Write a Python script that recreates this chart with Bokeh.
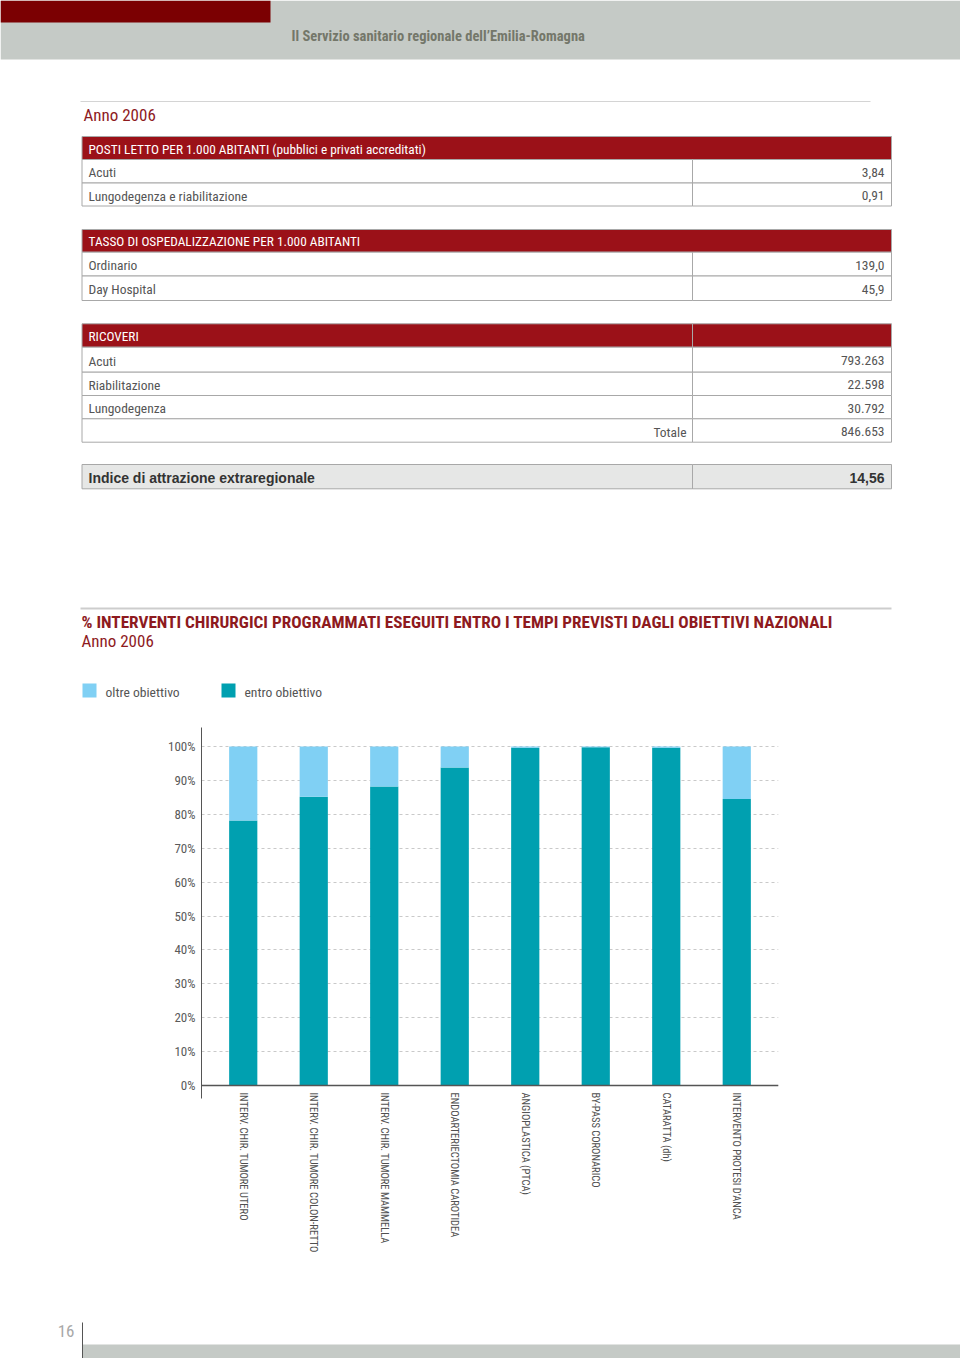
from bokeh.plotting import figure
from bokeh.layouts import column, row
from bokeh.models import Range1d, FactorRange, Span, PrintfTickFormatter, FixedTicker, Spacer
from bokeh.core.properties import value
from bokeh.embed import file_html
from bokeh.resources import INLINE

# ---------------- data ----------------
header_title = "Il Servizio sanitario regionale dell\u2019Emilia-Romagna"
year_label = "Anno 2006"

t1_header = "POSTI LETTO PER 1.000 ABITANTI (pubblici e privati accreditati)"
t1_labels = ["Acuti", "Lungodegenza e riabilitazione"]
t1_values = ["3,84", "0,91"]

t2_header = "TASSO DI OSPEDALIZZAZIONE PER 1.000 ABITANTI"
t2_labels = ["Ordinario", "Day Hospital"]
t2_values = ["139,0", "45,9"]

t3_header = "RICOVERI"
t3_labels = ["Acuti", "Riabilitazione", "Lungodegenza", ""]
t3_values = ["793.263", "22.598", "30.792", "846.653"]
t3_total_label = "Totale"

idx_label = "Indice di attrazione extraregionale"
idx_value = "14,56"

chart_title = "% INTERVENTI CHIRURGICI PROGRAMMATI ESEGUITI ENTRO I TEMPI PREVISTI DAGLI OBIETTIVI NAZIONALI"
chart_subtitle = "Anno 2006"
series_names = ["oltre obiettivo", "entro obiettivo"]

categories = [
    "INTERV. CHIR. TUMORE UTERO",
    "INTERV. CHIR. TUMORE COLON-RETTO",
    "INTERV. CHIR. TUMORE MAMMELLA",
    "ENDOARTERIECTOMIA CAROTIDEA",
    "ANGIOPLASTICA (PTCA)",
    "BY-PASS CORONARICO",
    "CATARATTA (dh)",
    "INTERVENTO PROTESI D\u2019ANCA",
]
entro = [78.2, 85.2, 88.2, 93.8, 99.6, 99.8, 99.6, 84.5]
oltre = [21.8, 14.8, 11.8, 6.2, 0.4, 0.2, 0.4, 15.5]
y_ticks = [0, 10, 20, 30, 40, 50, 60, 70, 80, 90, 100]

page_number = "16"

# ---------------- style ----------------
FONT = "Roboto Condensed"
FONT_W = "Liberation Sans"
RED = "#9b1118"
DARKRED = "#8e1a1e"
MAROON = "#7b0002"
BAND = "#c5cac6"
GREY_TXT = "#555555"
BORDER = "#a8a8a8"
LIGHTBLUE = "#80d0f4"
TEAL = "#00a0b0"


def blank(width, height, y0, y1):
    p = figure(width=width, height=height, x_range=Range1d(0, width), y_range=Range1d(y1, y0),
               output_backend="svg", toolbar_location=None, min_border=0,
               x_axis_location=None, y_axis_location=None)
    p.grid.visible = False
    p.outline_line_color = None
    p.background_fill_color = "white"
    p.border_fill_color = "white"
    return p


def txt(p, x, y, s, size, color, font=FONT, align="left", style="normal"):
    p.text(x=[x], y=[y], text=[s], text_font=value(font), text_font_size=f"{size}px",
           text_color=color, text_align=align, text_baseline="middle", text_font_style=style)


# ---------------- top page part ----------------
top = blank(960, 720, 0, 720)
top.quad(left=[0], right=[960], top=[0], bottom=[59], fill_color=BAND, line_color=None)
top.quad(left=[0], right=[270], top=[0], bottom=[22], fill_color=MAROON, line_color=None)
txt(top, 291, 36, header_title, 14.5, "#74776a", style="bold")

top.segment(x0=[80], y0=[101], x1=[870], y1=[101], line_color="#d4d4d4", line_width=1)
txt(top, 83, 114, year_label, 17, DARKRED)

L, M, R = 81.5, 692, 891


def header_row(y0, y1, s, split=False):
    if split:
        top.quad(left=[L, M], right=[M, R], top=[y0, y0], bottom=[y1, y1], fill_color=RED, line_color=BORDER)
    else:
        top.quad(left=[L], right=[R], top=[y0], bottom=[y1], fill_color=RED, line_color=BORDER)
    txt(top, 88, (y0 + y1) / 2 + 1, s, 13.3, "white")


def data_row(y0, y1, label, val, fill="white", style="normal", color=GREY_TXT, size=13.5, font=FONT):
    top.quad(left=[L, M], right=[M, R], top=[y0, y0], bottom=[y1, y1], fill_color=fill, line_color=BORDER)
    if label:
        txt(top, 88, (y0 + y1) / 2 + 1, label, size, color, font, style=style)
    txt(top, 884, (y0 + y1) / 2 + 1, val, size, color, font, align="right", style=style)


header_row(136, 159, t1_header)
data_row(159, 182.5, t1_labels[0], t1_values[0])
data_row(182.5, 205.5, t1_labels[1], t1_values[1])

header_row(229, 251.7, t2_header)
data_row(251.7, 275.5, t2_labels[0], t2_values[0])
data_row(275.5, 300, t2_labels[1], t2_values[1])

header_row(323.3, 346.7, t3_header, split=True)
t3_edges = [346.7, 371.7, 395, 418.3, 441.7]
for i in range(4):
    data_row(t3_edges[i], t3_edges[i + 1], t3_labels[i], t3_values[i])
txt(top, 686, (t3_edges[3] + t3_edges[4]) / 2 + 1, t3_total_label, 13.5, GREY_TXT, align="right")

data_row(464, 488.3, idx_label, idx_value, fill="#e6e7e6", style="bold", color="#333333", size=14, font=FONT_W)

top.segment(x0=[80], y0=[608], x1=[891], y1=[608], line_color="#cdcdcd", line_width=2)
txt(top, 81, 621, chart_title, 17.2, DARKRED, style="bold")
txt(top, 81, 640, chart_subtitle, 17, DARKRED)

top.quad(left=[82], right=[96], top=[683], bottom=[697], fill_color=LIGHTBLUE, line_color=None)
txt(top, 105, 691, series_names[0], 13.6, GREY_TXT)
top.quad(left=[221], right=[235], top=[683], bottom=[697], fill_color=TEAL, line_color=None)
txt(top, 244, 691, series_names[1], 13.6, GREY_TXT)

# ---------------- bar chart ----------------
chart = figure(width=639, height=600, x_range=FactorRange(*categories, range_padding=0.023),
               y_range=Range1d(-3.83, 105.6),
               output_backend="svg", toolbar_location=None,
               min_border_left=40, min_border_right=22, min_border_top=7, min_border_bottom=222)
chart.outline_line_color = None
chart.background_fill_color = "white"
chart.border_fill_color = "white"

chart.vbar_stack(["entro", "oltre"], x="cat", width=0.4,
                 source=dict(cat=categories, entro=entro, oltre=oltre),
                 color=[TEAL, LIGHTBLUE], line_color=None)

chart.xgrid.visible = False
chart.ygrid.ticker = FixedTicker(ticks=y_ticks)
chart.ygrid.grid_line_color = "#c9c9c9"
chart.ygrid.grid_line_dash = "3 3"
chart.ygrid.grid_line_width = 1

chart.add_layout(Span(location=0, dimension="width", line_color="#555555", line_width=1.5))

ya = chart.yaxis[0]
ya.ticker = FixedTicker(ticks=y_ticks)
ya.formatter = PrintfTickFormatter(format="%d%%")
ya.major_tick_in = 0
ya.major_tick_out = 0
ya.minor_tick_line_color = None
ya.axis_line_color = "#555555"
ya.axis_line_width = 1
ya.major_label_text_font = FONT
ya.major_label_text_font_size = "13px"
ya.major_label_text_color = "#5a5a5a"
ya.major_label_standoff = 6

xa = chart.xaxis[0]
xa.axis_line_color = None
xa.major_tick_line_color = None
xa.minor_tick_line_color = None
xa.major_label_orientation = "vertical"
xa.major_label_text_font = FONT
xa.major_label_text_font_size = "10.5px"
xa.major_label_text_color = "#505050"
xa.major_label_standoff = -12

chart_row = row(Spacer(width=161, height=600), chart, spacing=0)

# ---------------- footer ----------------
foot = blank(960, 38, 1320, 1358)
foot.quad(left=[82], right=[960], top=[1344], bottom=[1358], fill_color=BAND, line_color=None)
foot.segment(x0=[82], y0=[1322], x1=[82], y1=[1358], line_color="#555555", line_width=1)
txt(foot, 74, 1330, page_number, 17, "#a8a8a8", align="right")

page = column(top, chart_row, foot, spacing=0)
open("out.html", "w").write(file_html(page, INLINE))
